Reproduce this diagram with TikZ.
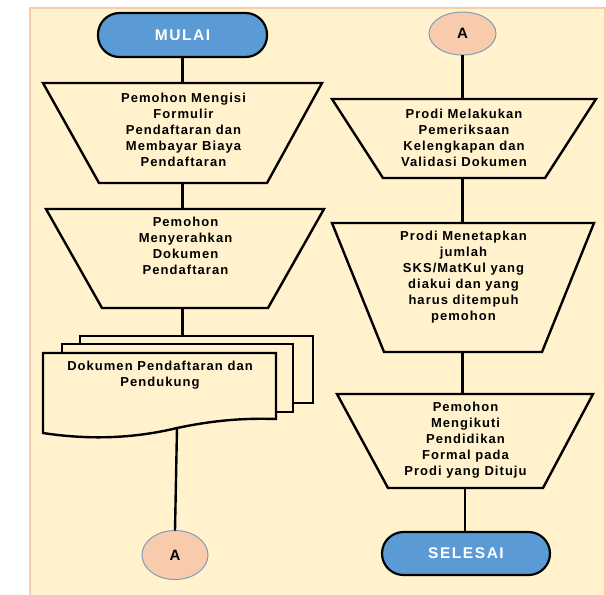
\documentclass[tikz,border=0pt]{standalone}
\usepackage{fontspec}
\setmainfont{Liberation Sans}[LetterSpace=8]
\usetikzlibrary{shapes.geometric,calc}
\definecolor{bgy}{HTML}{FFF2CC}
\definecolor{bgb}{HTML}{F8CBAD}
\definecolor{termblue}{HTML}{5B9BD5}
\definecolor{conpeach}{HTML}{F8CBAD}
\definecolor{conedge}{HTML}{7F9DB9}
\begin{document}
\begin{tikzpicture}[x=1pt,y=1pt,
  line join=miter,
  conn/.style={draw=black, line width=2.4pt},
  shp/.style={draw=black, line width=2.4pt, fill=bgy},
  frame/.style={inner sep=0pt, outer sep=0pt},
  term/.style={draw=black, line width=2.2pt, fill=termblue, rounded corners=21.5pt,
    inner sep=0pt, outer sep=0pt, text=white,
    font=\fontsize{15.5}{15.5}\selectfont\bfseries\addfontfeature{LetterSpace=10}},
  offpage/.style={ellipse, draw=conedge, line width=1pt, fill=conpeach, inner sep=0pt,
    outer sep=0pt, font=\fontsize{15}{15}\selectfont\bfseries},
  txt/.style={align=center, inner sep=0pt, text=black,
    font=\fontsize{13}{16}\selectfont\bfseries}]
\useasboundingbox (0,0) rectangle (606,-595);
\fill[bgy] (30,-8) rectangle (606,-596);
\draw[bgb, line width=1.2pt] (30,-597) -- (30,-8) -- (605,-8) -- (605,-597);

% left column
\node[term, minimum width=169, minimum height=44] (start) at (182.5,-35) {MULAI};

\node[frame, minimum width=279, minimum height=100] (t1) at (182.5,-133) {};
\draw[shp] (t1.north west) -- (t1.north east) -- ([xshift=-55]t1.south east) -- ([xshift=56]t1.south west) -- cycle;
\node[txt] (t1t) at (183.5,-129.5) {Pemohon Mengisi\\Formulir\\Pendaftaran dan\\Membayar Biaya\\Pendaftaran};

\node[frame, minimum width=278, minimum height=99] (t2) at (185,-258.5) {};
\draw[shp] (t2.north west) -- (t2.north east) -- ([xshift=-56]t2.south east) -- ([xshift=56]t2.south west) -- cycle;
\node[txt] (t2t) at (185.5,-246) {Pemohon\\Menyerahkan\\Dokumen\\Pendaftaran};

\node[frame, minimum width=233, minimum height=67] (doc3) at (196.5,-369.5) {};
\draw[shp] (doc3.south west) rectangle (doc3.north east);
\node[frame, minimum width=231, minimum height=68] (doc2) at (177.5,-378) {};
\draw[shp] (doc2.south west) rectangle (doc2.north east);
\coordinate (docb) at (177,-428);
\draw[shp] (43,-353) -- (276,-353) -- (276,-419)
  .. controls (245,-418) and (215,-420) .. (docb)
  .. controls (140,-437) and (95,-441) .. (43,-433) -- cycle;
\node[txt] (doct) at (160,-375) {Dokumen Pendaftaran dan\\Pendukung};

\node[offpage, minimum width=66, minimum height=49] (a1) at (175,-555) {A};

% right column
\node[offpage, minimum width=67, minimum height=43] (a2) at (462.5,-33.5) {A};

\node[frame, minimum width=264, minimum height=79] (t3) at (464,-138.5) {};
\draw[shp] (t3.north west) -- (t3.north east) -- ([xshift=-51]t3.south east) -- ([xshift=51]t3.south west) -- cycle;
\node[txt] (t3t) at (464,-137.5) {Prodi Melakukan\\Pemeriksaan\\Kelengkapan dan\\Validasi Dokumen};

\node[frame, minimum width=262, minimum height=129] (t4) at (463,-287.5) {};
\draw[shp] (t4.north west) -- (t4.north east) -- ([xshift=-52]t4.south east) -- ([xshift=52]t4.south west) -- cycle;
\node[txt] (t4t) at (463.5,-277) {Prodi Menetapkan\\jumlah\\SKS/MatKul yang\\diakui dan yang\\harus ditempuh\\pemohon};

\node[frame, minimum width=256, minimum height=94] (t5) at (465,-441) {};
\draw[shp] (t5.north west) -- (t5.north east) -- ([xshift=-50]t5.south east) -- ([xshift=51]t5.south west) -- cycle;
\node[txt] (t5t) at (465.5,-440) {Pemohon\\Mengikuti\\Pendidikan\\Formal pada\\Prodi yang Dituju};

\node[term, minimum width=168, minimum height=43] (end) at (466,-553.5) {SELESAI};

% connectors
\draw[conn] (start.south) -- (start.south |- t1.north);
\draw[conn] (t1.south) -- (t1.south |- t2.north);
\draw[conn] (t2.south -| start.south) -- (start.south |- doc3.north);
\draw[conn] (docb) -- (a1.north);
\draw[conn] (a2.south) -- (a2.south |- t3.north);
\draw[conn] (t3.south -| a2.south) -- (a2.south |- t4.north);
\draw[conn] (t4.south -| a2.south) -- (a2.south |- t5.north);
\draw[conn] (t5.south) -- (t5.south |- end.north);
\end{tikzpicture}
\end{document}
